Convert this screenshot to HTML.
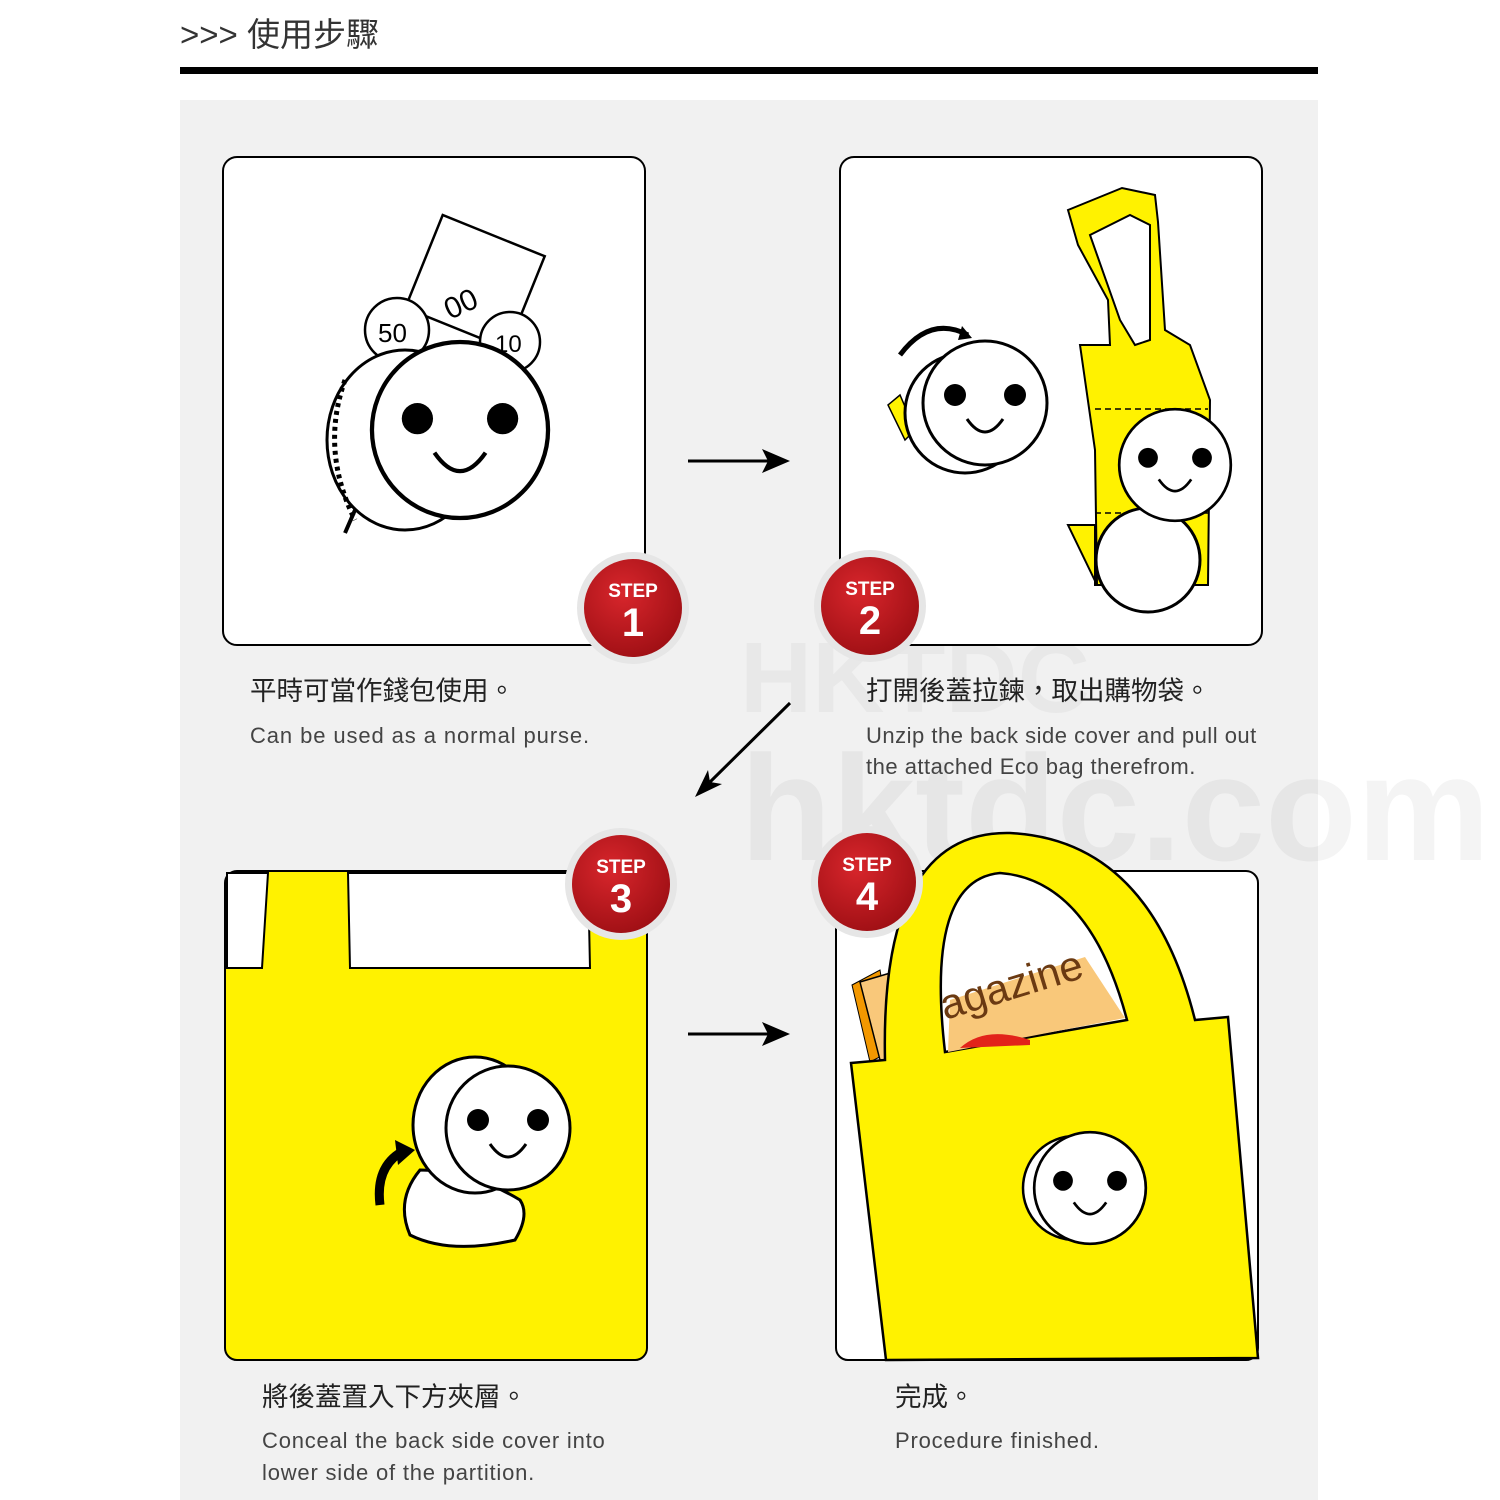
<!DOCTYPE html>
<html><head><meta charset="utf-8"><style>
html,body{margin:0;padding:0;background:#fff;}
svg{display:block;}
text{font-family:"Liberation Sans","Noto Sans CJK TC",sans-serif;}
</style></head><body>
<svg width="1500" height="1500" viewBox="0 0 1500 1500" xmlns="http://www.w3.org/2000/svg">
<defs>
  <radialGradient id="rg" cx="40%" cy="35%" r="70%">
    <stop offset="0" stop-color="#d8262c"/><stop offset="1" stop-color="#9e0f14"/>
  </radialGradient>
  <g id="face">
    <circle cx="0" cy="0" r="62" fill="#fff" stroke="#000" stroke-width="3"/>
    <circle cx="-30" cy="-8" r="11" fill="#000"/>
    <circle cx="30" cy="-8" r="11" fill="#000"/>
    <path d="M-18 16 Q0 42 18 16" fill="none" stroke="#000" stroke-width="3"/>
  </g>
</defs>

<text x="180" y="46" font-size="33" fill="#333">&gt;&gt;&gt; <tspan font-family="'Noto Sans CJK TC',sans-serif">使用步驟</tspan></text>
<rect x="180" y="67" width="1138" height="7" fill="#000"/>
<rect x="180" y="100" width="1138" height="1400" fill="#f1f1f1"/>

<!-- watermark -->
<text x="740" y="860" font-size="150" font-weight="bold" fill="#000" opacity="0.04">hktdc.com</text>
<text x="740" y="712" font-size="100" font-weight="bold" fill="#000" opacity="0.03">HKTDC</text>

<!-- panel 1 -->
<rect x="223" y="157" width="422" height="488" rx="14" fill="#fff" stroke="#000" stroke-width="2"/>
<rect x="420" y="232" width="110" height="100" fill="#fff" stroke="#000" stroke-width="2.5" transform="rotate(22 475 282)"/>
<text x="450" y="320" font-size="30" transform="rotate(-25 450 320)">00</text>
<circle cx="397" cy="330" r="32" fill="#fff" stroke="#000" stroke-width="2.5"/>
<text x="378" y="342" font-size="26">50</text>
<circle cx="510" cy="342" r="30" fill="#fff" stroke="#000" stroke-width="2.5"/>
<text x="495" y="352" font-size="24">10</text>
<ellipse cx="405" cy="440" rx="78" ry="90" fill="#fff" stroke="#000" stroke-width="3"/>
<path d="M345 380 Q320 450 355 520" fill="none" stroke="#000" stroke-width="5" stroke-dasharray="4 4"/>
<g transform="translate(460 430) scale(1.42)"><use href="#face"/></g>
<line x1="355" y1="510" x2="345" y2="533" stroke="#000" stroke-width="4"/>

<!-- panel 2 -->
<rect x="840" y="157" width="422" height="488" rx="14" fill="#fff" stroke="#000" stroke-width="2"/>
<path d="M1068 210 L1122 188 L1155 195 L1158 222 L1165 330 L1190 345 L1210 400 L1208 585 L1095 585 L1095 525 L1068 525 L1097 585 L1095 450 L1085 380 L1080 345 L1110 345 L1108 300 L1078 245 Z" fill="#fff200" stroke="#000" stroke-width="2"/>
<path d="M1090 235 L1130 215 L1150 225 L1150 340 L1135 345 L1120 320 Z" fill="#fff" stroke="#000" stroke-width="2"/>
<line x1="1095" y1="409" x2="1208" y2="409" stroke="#000" stroke-width="1.5" stroke-dasharray="6 4"/>
<line x1="1095" y1="513" x2="1208" y2="513" stroke="#000" stroke-width="1.5" stroke-dasharray="6 4"/>
<circle cx="1148" cy="560" r="52" fill="#fff" stroke="#000" stroke-width="3"/>
<g transform="translate(1175 465) scale(0.9)"><use href="#face"/></g>
<path d="M888 405 L900 395 L915 430 L905 440 Z" fill="#fff200" stroke="#000" stroke-width="1.5"/>
<ellipse cx="965" cy="413" rx="60" ry="60" fill="#fff" stroke="#000" stroke-width="3"/>
<g transform="translate(985 403) scale(1)"><use href="#face"/></g>
<path d="M900 355 Q930 315 968 335" fill="none" stroke="#000" stroke-width="5"/>
<path d="M962 326 L972 338 L958 340 Z" fill="#000"/>

<!-- badges 1,2 -->
<g transform="translate(633 608)"><circle r="56" fill="#e6e6e6"/><circle r="49" fill="url(#rg)"/><text y="-11" text-anchor="middle" font-size="19" fill="#fff" font-weight="bold">STEP</text><text y="28" text-anchor="middle" font-size="40" fill="#fff" font-weight="bold">1</text></g>
<g transform="translate(870 606)"><circle r="56" fill="#e6e6e6"/><circle r="49" fill="url(#rg)"/><text y="-11" text-anchor="middle" font-size="19" fill="#fff" font-weight="bold">STEP</text><text y="28" text-anchor="middle" font-size="40" fill="#fff" font-weight="bold">2</text></g>

<!-- arrows -->
<line x1="688" y1="461" x2="770" y2="461" stroke="#000" stroke-width="3"/>
<path d="M790 461 L762 449 L768 461 L762 473 Z" fill="#000"/>
<line x1="790" y1="703" x2="710" y2="782" stroke="#000" stroke-width="3"/>
<path d="M695 797 L722 784 L710 782 L708 770 Z" fill="#000"/>
<line x1="688" y1="1034" x2="770" y2="1034" stroke="#000" stroke-width="3"/>
<path d="M790 1034 L762 1022 L768 1034 L762 1046 Z" fill="#000"/>

<!-- captions top -->
<text x="250" y="700" font-size="26.5" fill="#222" font-family="'Noto Sans CJK TC',sans-serif">平時可當作錢包使用。</text>
<text x="250" y="743" font-size="22" letter-spacing="0.9" fill="#444">Can be used as a normal purse.</text>
<text x="866" y="700" font-size="26.5" fill="#222" font-family="'Noto Sans CJK TC',sans-serif">打開後蓋拉鍊，取出購物袋。</text>
<text x="866" y="743" font-size="22" letter-spacing="0.5" fill="#444">Unzip the back side cover and pull out</text>
<text x="866" y="774" font-size="22" letter-spacing="0.5" fill="#444">the attached Eco bag therefrom.</text>

<!-- panel 3 -->
<rect x="225" y="871" width="422" height="489" rx="12" fill="#fff200" stroke="#000" stroke-width="2"/>
<path d="M227 873 L268 873 L262 968 L227 968 Z" fill="#fff" stroke="#000" stroke-width="2"/>
<path d="M348 873 L588 873 L590 968 L350 968 Z" fill="#fff" stroke="#000" stroke-width="2"/>
<path d="M420 1170 Q395 1200 410 1235 Q450 1255 515 1240 Q530 1215 520 1200 Q470 1170 420 1170 Z" fill="#fff" stroke="#000" stroke-width="3"/>
<ellipse cx="475" cy="1125" rx="62" ry="68" fill="#fff" stroke="#000" stroke-width="3"/>
<g transform="translate(508 1128) scale(1.0)"><use href="#face"/></g>
<path d="M380 1205 Q375 1165 405 1150" fill="none" stroke="#000" stroke-width="9"/>
<path d="M395 1140 L415 1150 L398 1165 Z" fill="#000"/>

<!-- panel 4 -->
<rect x="836" y="871" width="422" height="489" rx="12" fill="#fff" stroke="#000" stroke-width="2"/>
<path d="M852 985 L880 970 L893 1050 L870 1062 Z" fill="#f39800" stroke="#000" stroke-width="1"/>
<path d="M860 982 L1085 915 L1110 1040 L880 1060 Z" fill="#f9c87a" stroke="#000" stroke-width="1.5"/>
<path d="M851 1063 L885 1060 Q880 830 1010 833 Q1150 840 1195 1020 L1228 1017 L1258 1358 L886 1360 Z" fill="#fff200" stroke="#000" stroke-width="2.5"/>
<path d="M945 1052 Q925 880 1000 873 Q1090 880 1127 1020 Z" fill="#fff" stroke="#000" stroke-width="2.5"/>
<path d="M950 1000 L1085 957 L1125 1018 L948 1052 Z" fill="#f9c87a"/>
<path d="M960 1048 Q985 1025 1030 1040 L1030 1045 Z" fill="#e2231a"/>
<text x="945" y="1020" font-size="42" fill="#6b3a12" transform="rotate(-17 945 1020)">agazine</text>
<ellipse cx="1075" cy="1188" rx="52" ry="52" fill="#fff" stroke="#000" stroke-width="2.5"/>
<g transform="translate(1090 1188) scale(0.9)"><use href="#face"/></g>

<!-- badges 3,4 -->
<g transform="translate(621 884)"><circle r="56" fill="#e6e6e6"/><circle r="49" fill="url(#rg)"/><text y="-11" text-anchor="middle" font-size="19" fill="#fff" font-weight="bold">STEP</text><text y="28" text-anchor="middle" font-size="40" fill="#fff" font-weight="bold">3</text></g>
<g transform="translate(867 882)"><circle r="56" fill="#e6e6e6"/><circle r="49" fill="url(#rg)"/><text y="-11" text-anchor="middle" font-size="19" fill="#fff" font-weight="bold">STEP</text><text y="28" text-anchor="middle" font-size="40" fill="#fff" font-weight="bold">4</text></g>

<!-- captions bottom -->
<text x="262" y="1406" font-size="26.5" fill="#222" font-family="'Noto Sans CJK TC',sans-serif">將後蓋置入下方夾層。</text>
<text x="262" y="1448" font-size="22" letter-spacing="0.8" fill="#444">Conceal the back side cover into</text>
<text x="262" y="1480" font-size="22" letter-spacing="0.8" fill="#444">lower side of the partition.</text>
<text x="895" y="1406" font-size="26.5" fill="#222" font-family="'Noto Sans CJK TC',sans-serif">完成。</text>
<text x="895" y="1448" font-size="22" letter-spacing="0.8" fill="#444">Procedure finished.</text>
</svg>
</body></html>
